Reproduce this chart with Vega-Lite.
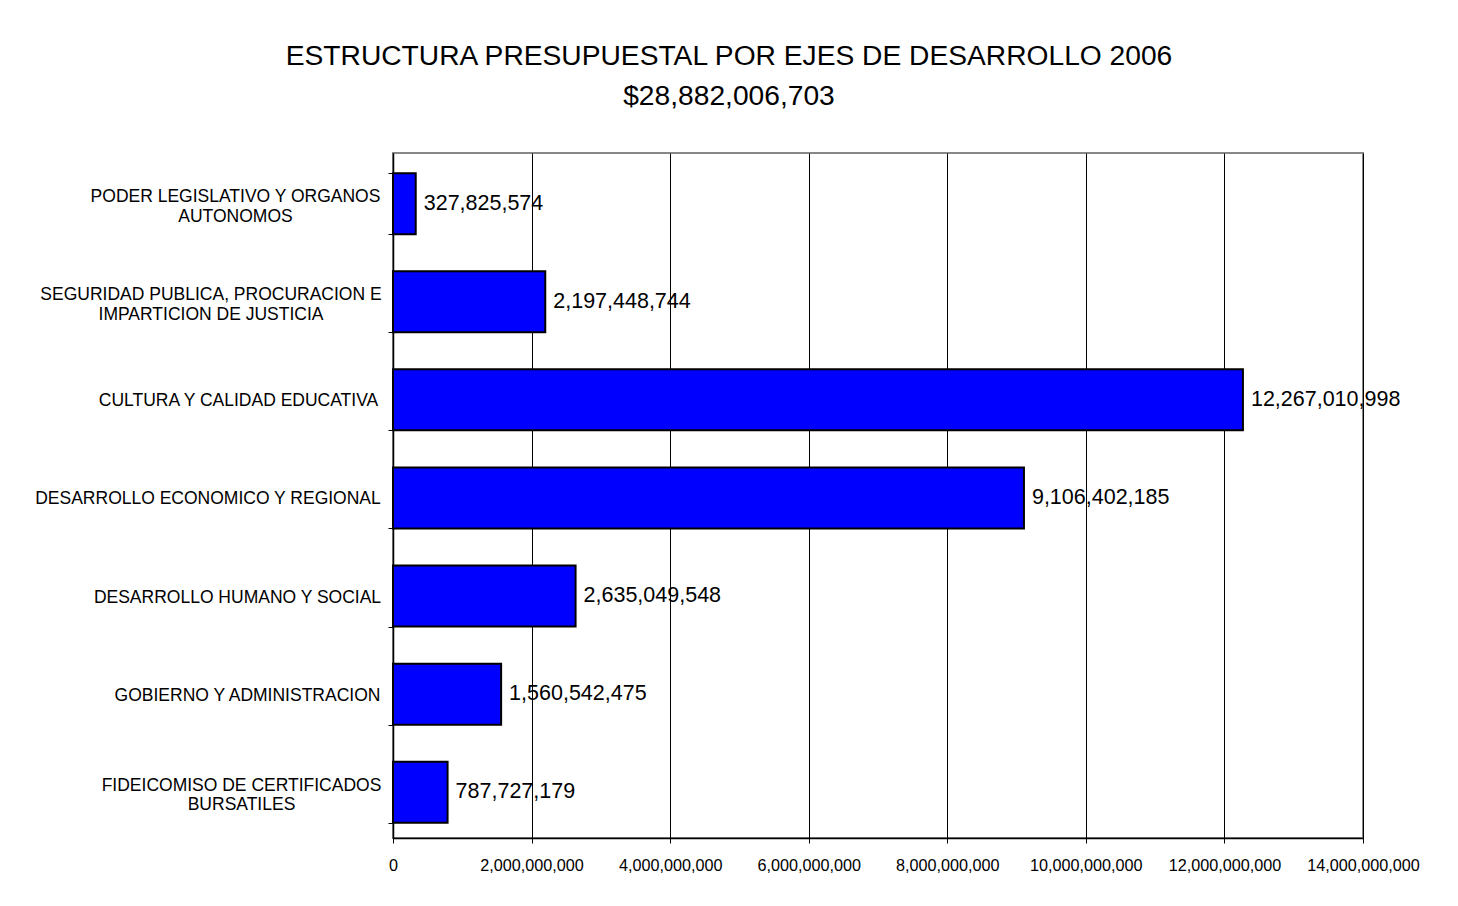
{
  "$schema": "https://vega.github.io/schema/vega-lite/v6.json",
  "width": 970,
  "height": 685,
  "autosize": {"type": "none"},
  "padding": {"left": 393, "top": 153, "right": 95, "bottom": 68},
  "background": "white",
  "title": {
    "text": ["ESTRUCTURA PRESUPUESTAL POR EJES DE DESARROLLO 2006", "$28,882,006,703"],
    "font": "Liberation Sans",
    "fontSize": 28.2,
    "fontWeight": "normal",
    "color": "#000000",
    "lineHeight": 40,
    "anchor": "middle",
    "dx": -149,
    "offset": 33
  },
  "data": {
    "values": [
      {"eje": "PODER LEGISLATIVO Y ORGANOS\nAUTONOMOS", "monto": 327825574},
      {"eje": "SEGURIDAD PUBLICA, PROCURACION E\nIMPARTICION DE JUSTICIA", "monto": 2197448744},
      {"eje": "CULTURA Y CALIDAD EDUCATIVA", "monto": 12267010998},
      {"eje": "DESARROLLO ECONOMICO Y REGIONAL", "monto": 9106402185},
      {"eje": "DESARROLLO HUMANO Y SOCIAL", "monto": 2635049548},
      {"eje": "GOBIERNO Y ADMINISTRACION", "monto": 1560542475},
      {"eje": "FIDEICOMISO DE CERTIFICADOS\nBURSATILES", "monto": 787727179}
    ]
  },
  "encoding": {
    "y": {
      "field": "eje",
      "type": "nominal",
      "sort": null,
      "title": null,
      "scale": {"paddingInner": 0.378, "paddingOuter": 0.18, "align": 0.57},
      "axis": {
        "labelExpr": "split(datum.label, '\\n')",
        "labelFont": "Liberation Sans",
        "labelFontSize": 17.5,
        "labelColor": "#000000",
        "labelLineHeight": 19.5,
        "labelLimit": 400,
        "labelAlign": "center",
        "labelBaseline": "middle",
        "labelOffset": {
          "condition": [
            {"test": "datum.value === 'PODER LEGISLATIVO Y ORGANOS\\nAUTONOMOS'", "value": -7},
            {"test": "datum.value === 'SEGURIDAD PUBLICA, PROCURACION E\\nIMPARTICION DE JUSTICIA'", "value": -7},
            {"test": "datum.value === 'FIDEICOMISO DE CERTIFICADOS\\nBURSATILES'", "value": -7}
          ],
          "value": 1
        },
        "labelPadding": {
          "condition": [
            {"test": "datum.value === 'PODER LEGISLATIVO Y ORGANOS\\nAUTONOMOS'", "value": 153},
            {"test": "datum.value === 'SEGURIDAD PUBLICA, PROCURACION E\\nIMPARTICION DE JUSTICIA'", "value": 177.5},
            {"test": "datum.value === 'CULTURA Y CALIDAD EDUCATIVA'", "value": 150},
            {"test": "datum.value === 'DESARROLLO ECONOMICO Y REGIONAL'", "value": 180.5},
            {"test": "datum.value === 'DESARROLLO HUMANO Y SOCIAL'", "value": 151},
            {"test": "datum.value === 'GOBIERNO Y ADMINISTRACION'", "value": 141}
          ],
          "value": 147
        },
        "tickBand": "extent",
        "ticks": true,
        "tickSize": 5,
        "tickColor": "#000000",
        "tickWidth": 1,
        "domainColor": "#000000",
        "domainWidth": 1.5,
        "grid": false
      }
    }
  },
  "layer": [
    {
      "mark": {"type": "bar", "color": "#0000FF", "stroke": "#000000", "strokeWidth": 2},
      "encoding": {
        "x": {
          "field": "monto",
          "type": "quantitative",
          "title": null,
          "scale": {"domain": [0, 14000000000], "nice": false},
          "axis": {
            "values": [0, 2000000000, 4000000000, 6000000000, 8000000000, 10000000000, 12000000000, 14000000000],
            "format": ",d",
            "labelFont": "Liberation Sans",
            "labelFontSize": 16.2,
            "labelColor": "#000000",
            "labelPadding": 14,
            "labelFlush": false,
            "labelOverlap": false,
            "tickSize": 5,
            "tickColor": "#000000",
            "domainColor": "#000000",
            "domainWidth": 1.5,
            "grid": true,
            "gridColor": "#000000",
            "gridWidth": 1
          }
        }
      }
    },
    {
      "mark": {"type": "text", "align": "left", "baseline": "middle", "dx": 8, "dy": 0, "font": "Liberation Sans", "fontSize": 21.5, "color": "#000000"},
      "encoding": {
        "x": {"field": "monto", "type": "quantitative"},
        "text": {"field": "monto", "type": "quantitative", "format": ",d"}
      }
    }
  ],
  "config": {
    "view": {"stroke": "#888888", "strokeWidth": 2}
  }
}
